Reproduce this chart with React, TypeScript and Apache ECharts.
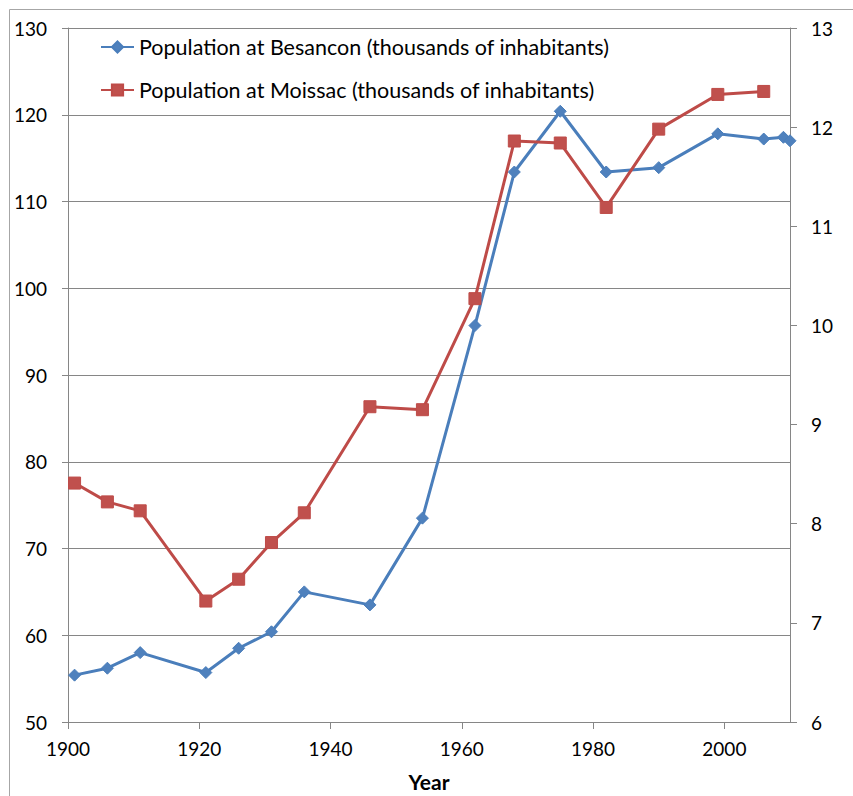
import React, { useEffect, useRef } from "react";
import * as echarts from "echarts";

const years = [1901, 1906, 1911, 1921, 1926, 1931, 1936, 1946, 1954, 1962, 1968, 1975, 1982, 1990, 1999, 2006, 2009, 2010];
const besancon = [55.4, 56.2, 58.0, 55.7, 58.5, 60.4, 65.0, 63.5, 73.5, 95.7, 113.4, 120.4, 113.4, 113.9, 117.8, 117.2, 117.4, 117.0];
const moissacYears = [1901, 1906, 1911, 1921, 1926, 1931, 1936, 1946, 1954, 1962, 1968, 1975, 1982, 1990, 1999, 2006];
const moissac = [8.41, 8.22, 8.13, 7.22, 7.44, 7.81, 8.11, 9.18, 9.15, 10.27, 11.86, 11.84, 11.19, 11.98, 12.33, 12.36];

const besanconName = "Population at Besancon (thousands of inhabitants)";
const moissacName = "Population at Moissac (thousands of inhabitants)";

const FONT = "Lato";
const GRAY = "#868686";

export default function App() {
  const ref = useRef<HTMLDivElement>(null);
  useEffect(() => {
    if (!ref.current) return;
    const chart = echarts.init(ref.current, null, { renderer: "svg" });
    chart.setOption({
      animation: false,
      backgroundColor: "#ffffff",
      textStyle: { fontFamily: FONT },
      grid: { left: 68, top: 28, right: 63, bottom: 74, outerBoundsMode: "none" },
      graphic: [
        {
          type: "rect",
          shape: { x: 9.5, y: 9.5, width: 900, height: 900 },
          style: { fill: "none", stroke: "#a6a6a6", lineWidth: 1 },
          silent: true,
        },
      ],
      legend: {
        orient: "vertical",
        left: 100,
        top: 36,
        padding: 0,
        itemWidth: 33,
        itemHeight: 14,
        itemGap: 21,
        textStyle: { fontFamily: FONT, fontSize: 21.5, color: "#000", lineHeight: 22 },
        data: [besanconName, moissacName],
      },
      xAxis: {
        type: "value",
        min: 1900,
        max: 2010,
        interval: 20,
        name: "Year",
        nameLocation: "middle",
        nameGap: 49,
        nameTextStyle: { fontFamily: FONT, fontSize: 21, fontWeight: "bold", color: "#000" },
        axisLine: { show: true, lineStyle: { color: GRAY, width: 1 } },
        axisTick: { show: true, inside: false, length: 7, lineStyle: { color: GRAY } },
        axisLabel: {
          fontFamily: FONT,
          fontSize: 19,
          color: "#000",
          margin: 17,
          showMaxLabel: false,
          formatter: (v: number) => String(v),
        },
        splitLine: { show: false },
      },
      yAxis: [
        {
          type: "value",
          min: 50,
          max: 130,
          interval: 10,
          position: "left",
          axisLine: { show: true, lineStyle: { color: GRAY, width: 1 } },
          axisTick: { show: true, length: 6, lineStyle: { color: GRAY } },
          axisLabel: { fontFamily: FONT, fontSize: 19, color: "#000", margin: 21 },
          splitLine: { show: true, lineStyle: { color: GRAY, width: 1 } },
        },
        {
          type: "value",
          min: 6,
          max: 13,
          interval: 1,
          position: "right",
          axisLine: { show: true, lineStyle: { color: GRAY, width: 1 } },
          axisTick: { show: true, length: 7, lineStyle: { color: GRAY } },
          axisLabel: { fontFamily: FONT, fontSize: 19, color: "#000", margin: 21 },
          splitLine: { show: false },
        },
      ],
      series: [
        {
          name: besanconName,
          type: "line",
          yAxisIndex: 0,
          data: years.map((y, i) => [y, besancon[i]]),
          symbol: "diamond",
          symbolSize: 12,
          showAllSymbol: true,
          lineStyle: { color: "#4A7EBB", width: 3 },
          itemStyle: { color: "#4F81BD", borderColor: "#4A7EBB", borderWidth: 1 },
        },
        {
          name: moissacName,
          type: "line",
          yAxisIndex: 1,
          data: moissacYears.map((y, i) => [y, moissac[i]]),
          symbol: "rect",
          symbolSize: 12,
          showAllSymbol: true,
          lineStyle: { color: "#BE4B48", width: 3 },
          itemStyle: { color: "#C0504D", borderColor: "#BE4B48", borderWidth: 1 },
        },
      ],
    });
    return () => chart.dispose();
  }, []);
  return (
    <div
      ref={ref}
      style={{ position: "fixed", left: 0, top: 0, width: 853, height: 796 }}
    />
  );
}
